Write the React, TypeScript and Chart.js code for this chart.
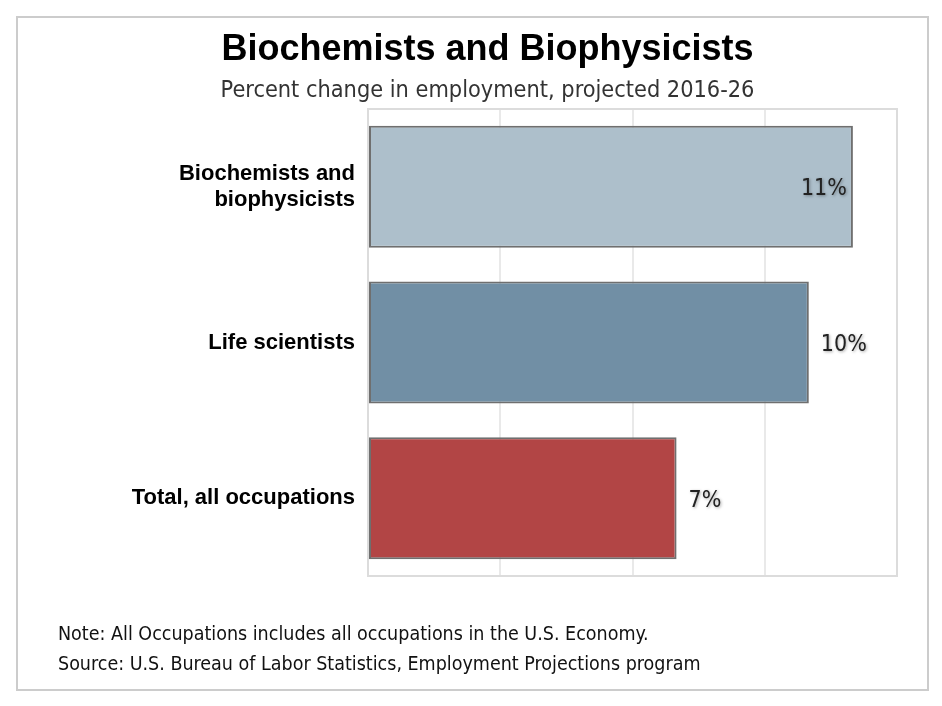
import React, { useEffect, useRef } from "react";
import { Chart, registerables } from "chart.js";

Chart.register(...registerables);

const TITLE = "Biochemists and Biophysicists";
const SUBTITLE = "Percent change in employment, projected 2016-26";
const NOTES = [
  "Note: All Occupations includes all occupations in the U.S. Economy.",
  "Source: U.S. Bureau of Labor Statistics, Employment Projections program",
];
const categories: (string | string[])[] = [
  ["Biochemists and", "biophysicists"],
  "Life scientists",
  "Total, all occupations",
];
const values = [11, 10, 7];
const barColors = ["#adbfcb", "#718fa5", "#b24545"];
const X_MIN = 0;
const X_MAX = 12;
const X_STEP = 3;

const SANS = "Tahoma, 'DejaVu Sans Condensed', 'DejaVu Sans', sans-serif";
const ARIAL = "'Liberation Sans', Arial, sans-serif";

const framePlugin = {
  id: "frame",
  beforeDraw(chart: any) {
    const ctx = chart.ctx;
    ctx.save();
    ctx.fillStyle = "#ffffff";
    ctx.fillRect(0, 0, chart.width, chart.height);
    ctx.strokeStyle = "#cccccc";
    ctx.lineWidth = 2;
    ctx.strokeRect(17, 17, 911, 673);
    ctx.restore();
  },
  afterDraw(chart: any) {
    const ctx = chart.ctx;
    ctx.save();
    ctx.textAlign = "center";
    ctx.textBaseline = "alphabetic";
    const cx = 487.5;
    ctx.fillStyle = "#000000";
    ctx.font = "bold 36px " + ARIAL;
    ctx.fillText(TITLE, cx, 60);
    ctx.fillStyle = "#333333";
    ctx.font = "23.3px " + SANS;
    ctx.fillText(SUBTITLE, cx, 97);
    ctx.textAlign = "left";
    ctx.fillStyle = "#111111";
    ctx.font = "19.5px " + SANS;
    ctx.fillText(NOTES[0], 58, 640);
    ctx.fillText(NOTES[1], 58, 670);
    ctx.restore();
  },
  beforeDatasetsDraw(chart: any) {
    const ctx = chart.ctx;
    const ca = chart.chartArea;
    ctx.save();
    ctx.strokeStyle = "#dcdcdc";
    ctx.lineWidth = 2;
    ctx.strokeRect(ca.left, ca.top, ca.right - ca.left, ca.bottom - ca.top);
    ctx.restore();
  },
  afterDatasetsDraw(chart: any) {
    const ctx = chart.ctx;
    const ca = chart.chartArea;
    const meta = chart.getDatasetMeta(0);
    ctx.save();
    ctx.font = "23px " + SANS;
    ctx.textBaseline = "alphabetic";
    ctx.fillStyle = "#222222";
    ctx.shadowColor = "rgba(0,0,0,0.35)";
    ctx.shadowBlur = 3;
    ctx.shadowOffsetX = 1;
    ctx.shadowOffsetY = 1;
    meta.data.forEach((bar: any, i: number) => {
      const txt = values[i] + "%";
      const w = ctx.measureText(txt).width;
      const y = bar.y + 8.5;
      if (bar.x + 12 + w > ca.right - 2) {
        ctx.textAlign = "right";
        ctx.fillText(txt, bar.x - 6, y);
      } else {
        ctx.textAlign = "left";
        ctx.fillText(txt, bar.x + 12, y);
      }
    });
    ctx.restore();
  },
};

export default function App() {
  const ref = useRef<HTMLCanvasElement>(null);
  useEffect(() => {
    const chart = new Chart(ref.current!, {
      type: "bar",
      data: {
        labels: categories,
        datasets: [
          {
            data: values,
            backgroundColor: barColors,
            borderColor: "#6f6f6f",
            borderWidth: 2,
            borderSkipped: false,
            barPercentage: 0.784,
            categoryPercentage: 1,
          },
        ],
      },
      options: {
        indexAxis: "y",
        animation: false,
        responsive: false,
        maintainAspectRatio: false,
        layout: { padding: { top: 109, bottom: 130, left: 0, right: 45 } },
        plugins: {
          legend: { display: false },
          tooltip: { enabled: false },
          title: { display: false },
        },
        scales: {
          x: {
            min: X_MIN,
            max: X_MAX,
            ticks: { display: false, stepSize: X_STEP },
            grid: { color: "#e9e9e9", lineWidth: 2, drawTicks: false },
            border: { display: false },
            afterFit(scale: any) {
              scale.height = 0;
            },
          },
          y: {
            ticks: {
              color: "#000000",
              padding: 13,
              font: { family: ARIAL, size: 22, weight: "bold", lineHeight: 1.18 },
            },
            grid: { display: false, drawTicks: false },
            border: { display: false },
            afterFit(scale: any) {
              scale.width = 368;
            },
          },
        },
      },
      plugins: [framePlugin],
    } as any);
    return () => chart.destroy();
  }, []);
  return (
    <div style={{ position: "absolute", left: 0, top: 0, width: 942, height: 706 }}>
      <canvas ref={ref} width={942} height={706} style={{ display: "block" }} />
    </div>
  );
}
